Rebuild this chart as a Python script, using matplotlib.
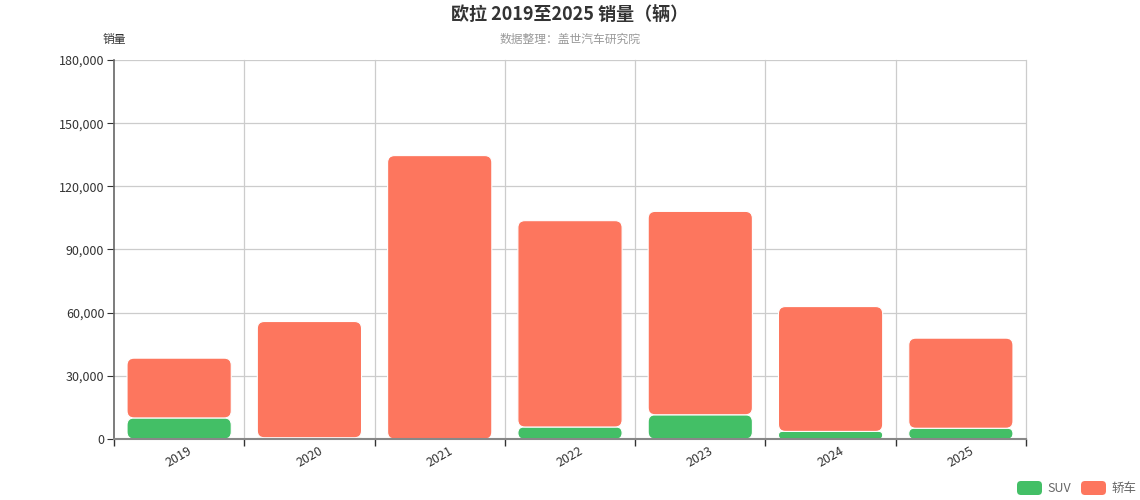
import matplotlib
matplotlib.use("Agg")
import matplotlib.pyplot as plt
from matplotlib.patches import FancyBboxPatch
from matplotlib.ticker import FuncFormatter, FixedLocator
import numpy as np

plt.rcParams['font.family'] = ['Noto Sans CJK SC', 'DejaVu Sans']

years = ['2019', '2020', '2021', '2022', '2023', '2024', '2025']
suv = [10000, 600, 0, 5700, 11500, 3600, 5100]
sedan = [28400, 55200, 134600, 98000, 96600, 59300, 42800]
series_names = ['SUV', '轿车']
colors = ['#43BF66', '#FD765E']
title = '欧拉 2019至2025 销量（辆）'
subtitle = '数据整理：盖世汽车研究院'
y_name = '销量'
y_max = 180000
y_step = 30000

W, H = 1140, 500
fig = plt.figure(figsize=(W / 100, H / 100), dpi=100)
L, R, T, B = 114, 1026, 60, 439
ax = fig.add_axes([L / W, 1 - B / H, (R - L) / W, (B - T) / H])

x = np.arange(len(years))
ax.set_xlim(-0.5, len(years) - 0.5)
ax.set_ylim(0, y_max)

bw = 0.8
px_per_x = (R - L) / len(years)
px_per_y = (B - T) / y_max
radius_px = 7.0


def rbar(xc, y0, h, color):
    if h <= 0:
        return
    r_px = min(radius_px, h * px_per_y / 2)
    r_x = r_px / px_per_x
    aspect = px_per_x / px_per_y
    p = FancyBboxPatch((xc - bw / 2, y0), bw, h,
                       boxstyle=f"round,pad=0,rounding_size={r_x}",
                       mutation_aspect=aspect,
                       facecolor=color, edgecolor='white', linewidth=0.8,
                       zorder=3)
    ax.add_patch(p)


# draw via bar to register, then replace with rounded patches
bars1 = ax.bar(x, suv, width=bw, color=colors[0], alpha=0)
bars2 = ax.bar(x, sedan, width=bw, bottom=suv, color=colors[1], alpha=0)
for b in bars1:
    rbar(b.get_x() + bw / 2, b.get_y(), b.get_height(), colors[0])
for b in bars2:
    rbar(b.get_x() + bw / 2, b.get_y(), b.get_height(), colors[1])

# grid
ax.set_yticks(np.arange(0, y_max + 1, y_step))
ax.yaxis.set_major_formatter(FuncFormatter(lambda v, p: f"{int(v):,}"))
ax.yaxis.grid(True, color='#cccccc', linewidth=0.9, zorder=0)
for xb in np.arange(0.5, len(years), 1.0):
    ax.axvline(xb, color='#cccccc', linewidth=0.9, zorder=0, clip_on=False)

ax.set_xticks(x)
ax.set_xticklabels(years, rotation=30, fontsize=9, color='#333333')
ax.tick_params(axis='x', length=0, pad=4)
ax.xaxis.set_minor_locator(FixedLocator(np.arange(-0.5, len(years), 1.0)))
ax.tick_params(axis='x', which='minor', length=5, color='#333333', width=1)
ax.tick_params(axis='y', length=5, color='#333333', labelsize=9, labelcolor='#333333', pad=2)

for s in ['top', 'right']:
    ax.spines[s].set_visible(False)
ax.spines['left'].set_color('#666666')
ax.spines['bottom'].set_color('#888888')
ax.spines['bottom'].set_linewidth(1.5)
ax.spines['left'].set_linewidth(1.2)
ax.spines['bottom'].set_zorder(4)

fig.text(570 / W, 1 - 14 / H, title, ha='center', va='center', fontsize=13,
         fontweight='bold', color='#333333')
fig.text(570 / W, 1 - 39 / H, subtitle, ha='center', va='center', fontsize=8.5,
         color='#999999')
fig.text(114 / W, 1 - 39 / H, y_name, ha='center', va='center', fontsize=8.5,
         color='#333333')

# legend
leg_y = 488
items = [(1017, series_names[0], colors[0]), (1081, series_names[1], colors[1])]
for x0, name, c in items:
    p = FancyBboxPatch((x0 / W, 1 - (leg_y + 7) / H), 25 / W, 14 / H,
                       boxstyle=f"round,pad=0,rounding_size={4 / W}",
                       mutation_aspect=W / H,
                       transform=fig.transFigure, facecolor=c, edgecolor='none')
    fig.patches.append(p)
    fig.text((x0 + 30) / W, 1 - leg_y / H, name, ha='left', va='center',
             fontsize=9, color='#666666')

fig.savefig('out.png', dpi=100)
